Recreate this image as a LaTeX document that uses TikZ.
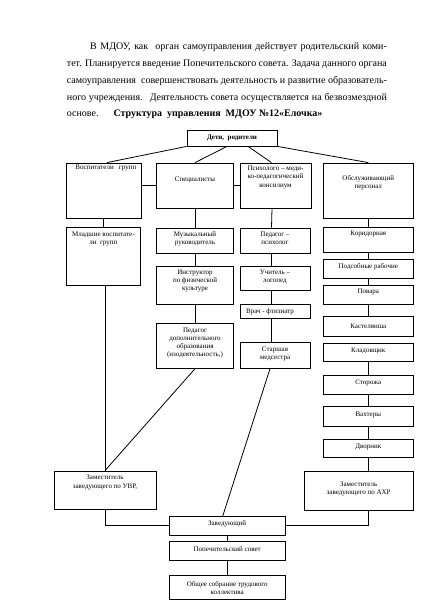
\documentclass[tikz,border=0pt]{standalone}
\usepackage{fontspec}
\setmainfont{Liberation Serif}
\begin{document}
\begin{tikzpicture}[x=1pt,y=-1pt,
  box/.style={draw, line width=0.8pt, inner sep=0pt, rectangle},
  txt/.style={font=\fontsize{7}{8.2}\selectfont, align=center, inner sep=0pt},
  para/.style={font=\fontsize{10}{12}\selectfont, inner sep=0pt, anchor=base west},
  con/.style={line width=0.8pt}]
\useasboundingbox (0,0) rectangle (424,600);
% paragraph
\node[para] (l1) at (90,49.5) {\makebox[296.7pt][s]{В МДОУ, как \ орган самоуправления действует родительский коми-}};
\node[para] (l2) at (66.7,66.8) {\makebox[320pt][s]{тет. Планируется введение Попечительского совета. Задача данного органа}};
\node[para] (l3) at (66.7,83.3) {\makebox[320pt][s]{самоуправления \ совершенствовать деятельность и развитие образователь-}};
\node[para] (l4) at (66.7,100) {\makebox[320pt][s]{ного учреждения. \ Деятельность совета осуществляется на безвозмездной}};
\node[para] (l5) at (66.7,116.5) {основе.};
\node[para, font=\fontsize{10}{12}\selectfont\bfseries] (title) at (113.3,116.5) {Структура \ управления \ МДОУ №12«Елочка»};
% boxes
\node[box, minimum width=90pt, minimum height=16pt] (deti) at (232,138) {};
\node[box, minimum width=74.3pt, minimum height=55pt] (vosp) at (103.85,190.5) {};
\node[box, minimum width=76.6pt, minimum height=45.3pt] (spec) at (195,185.65) {};
\node[box, minimum width=71pt, minimum height=45.3pt] (psy) at (275.5,185.65) {};
\node[box, minimum width=90pt, minimum height=55pt] (obs) at (368.3,190.5) {};
\node[box, minimum width=73.3pt, minimum height=57.7pt] (mlad) at (103.35,256.15) {};
\node[box, minimum width=76.6pt, minimum height=25.3pt] (muz) at (195,240.65) {};
\node[box, minimum width=76.6pt, minimum height=38pt] (instr) at (195,285) {};
\node[box, minimum width=76.6pt, minimum height=45pt] (pdo) at (195,345.8) {};
\node[box, minimum width=70pt, minimum height=25.3pt] (pp) at (275,240.65) {};
\node[box, minimum width=70pt, minimum height=24.7pt] (log) at (275,278.35) {};
\node[box, minimum width=70pt, minimum height=14.3pt] (vrach) at (275,311.15) {};
\node[box, minimum width=70pt, minimum height=25.6pt] (med) at (275,355.5) {};
\node[box, minimum width=90pt, minimum height=25.4pt] (kor) at (368.3,240) {};
\node[box, minimum width=90pt, minimum height=19pt] (pods) at (368.3,268.8) {};
\node[box, minimum width=90pt, minimum height=19.3pt] (pov) at (368.3,294.65) {};
\node[box, minimum width=90pt, minimum height=20pt] (kast) at (368.3,326.7) {};
\node[box, minimum width=90pt, minimum height=18.4pt] (klad) at (368.3,352.5) {};
\node[box, minimum width=90pt, minimum height=19pt] (stor) at (368.3,384.5) {};
\node[box, minimum width=90pt, minimum height=20pt] (vah) at (368.3,416.7) {};
\node[box, minimum width=90pt, minimum height=18pt] (dvor) at (368.3,448.3) {};
\node[box, minimum width=102pt, minimum height=38pt] (uvr) at (105,490) {};
\node[box, minimum width=109.3pt, minimum height=39pt] (ahr) at (358.65,490.5) {};
\node[box, minimum width=115.7pt, minimum height=18.3pt] (zav) at (227.15,525.85) {};
\node[box, minimum width=115.7pt, minimum height=18.3pt] (pop) at (227.15,550.85) {};
\node[box, minimum width=115.7pt, minimum height=24.3pt] (obsh) at (227.15,587.15) {};
% texts
\node[txt, font=\fontsize{7}{8.2}\selectfont\bfseries] (tdeti) at (232,137.7) {Дети, \ родители};
\node[txt] (tvosp) at (105.8,168.3) {Воспитатели \ \ групп};
\node[txt] (tspec) at (195,180) {Специалисты};
\node[txt, font=\fontsize{7}{8.7}\selectfont] (tpsy) at (275.5,177.3) {Психолого – меди-\\ко-педагогический\\консилиум};
\node[txt] (tobs) at (368.3,182.5) {Обслуживающий\\персонал};
\node[txt] (tmlad) at (103.35,239.2) {Младшие воспитате-\\ли \ групп};
\node[txt] (tmuz) at (195,238.5) {Музыкальный\\руководитель};
\node[txt] (tinstr) at (195,281) {Инструктор\\по физической\\культуре};
\node[txt] (tpdo) at (195,342.8) {Педагог\\дополнительного\\образования\\(изодеятельность,)};
\node[txt] (tpp) at (275,238.5) {Педагог –\\психолог};
\node[txt] (tlog) at (275,276.8) {Учитель –\\логопед};
\node[txt] (tvrach) at (270,311.5) {Врач - фтизиатр};
\node[txt] (tmed) at (275,354.2) {Старшая\\медсестра};
\node[txt] (tkor) at (368.3,234.3) {Коридорная};
\node[txt] (tpods) at (368.3,266.5) {Подсобные рабочие};
\node[txt] (tpov) at (368.3,292) {Повара};
\node[txt] (tkast) at (368.3,326) {Кастелянша};
\node[txt] (tklad) at (368.3,350.7) {Кладовщик};
\node[txt] (tstor) at (368.3,383.3) {Сторожа};
\node[txt] (tvah) at (368.3,415) {Вахтеры};
\node[txt] (tdvor) at (368.3,446.5) {Дворник};
\node[txt] (tuvr) at (105,482.5) {Заместитель\\заведующего по УВР,};
\node[txt] (tahr) at (358.65,488.8) {Заместитель\\заведующего по АХР};
\node[txt] (tzav) at (227.15,523.5) {Заведующий};
\node[txt] (tpop) at (227.15,549.5) {Попечительский совет};
\node[txt] (tobsh) at (227.15,588.3) {Общее собрание трудового\\коллектива};
% connectors
\draw[con] (deti.south west) -- ([xshift=3pt]vosp.north);
\draw[con] ([xshift=-5pt]deti.south) -- (spec.north);
\draw[con] ([xshift=16pt]deti.south) -- ([xshift=-4pt]psy.north);
\draw[con] (deti.south east) -- (obs.north);
\draw[con] (vosp.east |- spec.west) -- (spec.west);
\draw[con] (spec.east) -- (psy.west);
\draw[con] (vosp.south) -- (vosp.south |- mlad.north);
\draw[con] (spec.south) -- (muz.north);
\draw[con] (muz.south) -- (instr.north);
\draw[con] (instr.south) -- (pdo.north);
\draw[con] ([xshift=-3.5pt]psy.south) -- ([xshift=-3.5pt]pp.north);
\draw[con] ([xshift=-3.5pt]pp.south) -- ([xshift=-3.5pt]log.north);
\draw[con] ([xshift=-3.5pt]log.south) -- ([xshift=-3.5pt]vrach.north);
\draw[con] ([xshift=-3.5pt]vrach.south) -- ([xshift=-3.5pt]med.north);
\draw[con] (obs.south) -- (kor.north);
\draw[con] (kor.south) -- (pods.north);
\draw[con] (pods.south) -- (pov.north);
\draw[con] (pov.south) -- (kast.north);
\draw[con] (klad.south) -- (stor.north);
\draw[con] (stor.south) -- (vah.north);
\draw[con] (vah.south) -- (dvor.north);
\draw[con] (dvor.south) -- (dvor.south |- ahr.north);
\draw[con] (uvr.north |- mlad.south) -- (uvr.north);
\draw[con] (pdo.south) -- (uvr.north);
\draw[con] ([xshift=-5pt]med.south) -- ([xshift=-4.5pt]zav.north);
\draw[con] (uvr.south) -- (uvr.south |- zav.west) -- (zav.west);
\draw[con] (dvor.south |- ahr.south) -- (dvor.south |- zav.east) -- (zav.east);
\draw[con] (zav.south) -- (pop.north);
\draw[con] (pop.south) -- (obsh.north);
\end{tikzpicture}
\end{document}
